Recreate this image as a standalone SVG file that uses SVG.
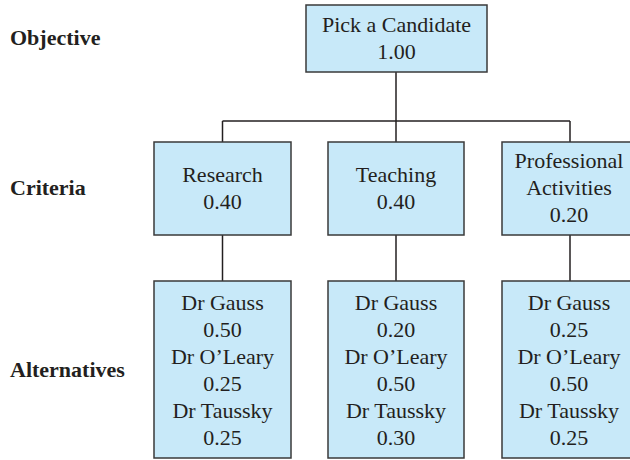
<svg xmlns="http://www.w3.org/2000/svg" width="630" height="460" viewBox="0 0 630 460">
<style>
.box{fill:#c8e9f9;stroke:#3a3a3a;stroke-width:1.5}
.t{font-family:'Liberation Serif','DejaVu Serif',serif;font-size:22px;fill:#231f20;text-anchor:middle}
.lab{font-family:'Liberation Serif','DejaVu Serif',serif;font-size:22px;font-weight:bold;fill:#231f20}
.c{stroke:#231f20;stroke-width:1.5;fill:none}
</style>
<rect width="630" height="460" fill="#ffffff"/>
<g id="connectors">
<line class="c" x1="396" y1="72" x2="396" y2="142"/>
<line class="c" x1="222.5" y1="121" x2="570" y2="121"/>
<line class="c" x1="222.5" y1="121" x2="222.5" y2="142"/>
<line class="c" x1="570" y1="121" x2="570" y2="142"/>
<line class="c" x1="222.5" y1="235" x2="222.5" y2="281"/>
<line class="c" x1="396" y1="235" x2="396" y2="281"/>
<line class="c" x1="570" y1="235" x2="570" y2="281"/>
</g>
<g id="labels">
<text class="lab" x="10" y="45">Objective</text>
<text class="lab" x="10" y="195">Criteria</text>
<text class="lab" x="10" y="377">Alternatives</text>
</g>
<g id="objective">
<rect class="box" x="306" y="5" width="181" height="67"/>
<text class="t" x="396.5" y="32">Pick a Candidate</text>
<text class="t" x="396.5" y="59">1.00</text>
</g>
<g id="research">
<rect class="box" x="154" y="142" width="137" height="93"/>
<text class="t" x="222.5" y="182">Research</text>
<text class="t" x="222.5" y="209">0.40</text>
</g>
<g id="teaching">
<rect class="box" x="328" y="142" width="136" height="93"/>
<text class="t" x="396" y="182">Teaching</text>
<text class="t" x="396" y="209">0.40</text>
</g>
<g id="professional">
<rect class="box" x="502" y="142" width="136" height="93"/>
<text class="t" x="569" y="168">Professional</text>
<text class="t" x="569" y="195">Activities</text>
<text class="t" x="569" y="222">0.20</text>
</g>
<g id="alt-research">
<rect class="box" x="154" y="281" width="137" height="177"/>
<text class="t" x="222.5" y="310">Dr Gauss</text>
<text class="t" x="222.5" y="337">0.50</text>
<text class="t" x="222.5" y="364">Dr O’Leary</text>
<text class="t" x="222.5" y="391">0.25</text>
<text class="t" x="222.5" y="418">Dr Taussky</text>
<text class="t" x="222.5" y="445">0.25</text>
</g>
<g id="alt-teaching">
<rect class="box" x="328" y="281" width="136" height="177"/>
<text class="t" x="396" y="310">Dr Gauss</text>
<text class="t" x="396" y="337">0.20</text>
<text class="t" x="396" y="364">Dr O’Leary</text>
<text class="t" x="396" y="391">0.50</text>
<text class="t" x="396" y="418">Dr Taussky</text>
<text class="t" x="396" y="445">0.30</text>
</g>
<g id="alt-professional">
<rect class="box" x="502" y="281" width="136" height="177"/>
<text class="t" x="569" y="310">Dr Gauss</text>
<text class="t" x="569" y="337">0.25</text>
<text class="t" x="569" y="364">Dr O’Leary</text>
<text class="t" x="569" y="391">0.50</text>
<text class="t" x="569" y="418">Dr Taussky</text>
<text class="t" x="569" y="445">0.25</text>
</g>
</svg>
